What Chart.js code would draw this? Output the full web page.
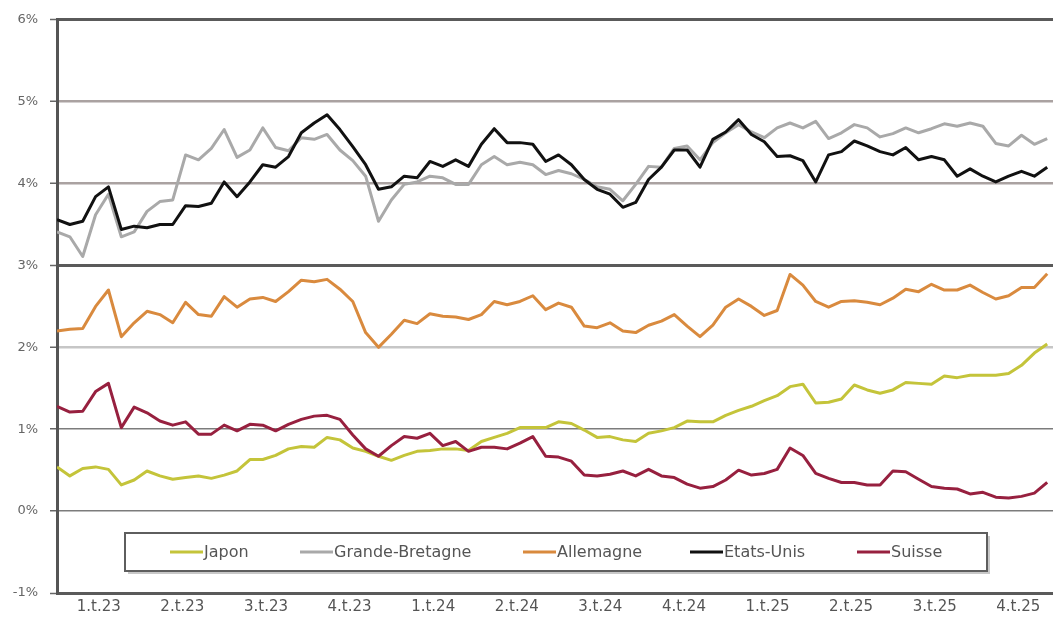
<!DOCTYPE html>
<html>
<head>
<meta charset="utf-8">
<script src="https://cdn.jsdelivr.net/npm/chart.js@4.4.1/dist/chart.umd.min.js"></script>
<style>
  html, body { margin: 0; padding: 0; background: #fff; overflow: hidden; }
  #wrap { width: 1053px; height: 621px; position: relative; }
</style>
</head>
<body>
<div id="wrap"><canvas id="c"></canvas></div>
<script>
// Quarter labels along the time axis (13 weeks per quarter)
const quarterLabels = ['1.t.23', '2.t.23', '3.t.23', '4.t.23', '1.t.24', '2.t.24',
                       '3.t.24', '4.t.24', '1.t.25', '2.t.25', '3.t.25', '4.t.25'];

// 10-year government bond yields, %, one observation every two weeks
const japon = [0.54,0.43,0.52,0.54,0.51,0.32,0.38,0.49,0.43,0.39,
  0.41,0.43,0.40,0.44,0.49,0.63,0.63,0.68,0.76,0.79,
  0.78,0.90,0.87,0.77,0.73,0.67,0.62,0.68,0.73,0.74,
  0.76,0.76,0.74,0.85,0.90,0.95,1.02,1.02,1.02,1.09,
  1.07,0.99,0.90,0.91,0.87,0.85,0.95,0.98,1.02,1.10,
  1.09,1.09,1.17,1.23,1.28,1.35,1.41,1.52,1.55,1.32,
  1.33,1.37,1.54,1.48,1.44,1.48,1.57,1.56,1.55,1.65,
  1.63,1.66,1.66,1.66,1.68,1.78,1.93,2.04];

const grandeBretagne = [3.41,3.35,3.11,3.62,3.87,3.35,3.41,3.66,3.78,3.80,
  4.35,4.29,4.43,4.66,4.32,4.41,4.68,4.44,4.40,4.56,
  4.54,4.60,4.41,4.28,4.09,3.54,3.80,3.99,4.02,4.09,
  4.07,3.99,3.99,4.23,4.33,4.23,4.26,4.23,4.11,4.16,
  4.12,4.05,3.96,3.93,3.79,3.99,4.21,4.20,4.43,4.46,
  4.29,4.50,4.62,4.72,4.63,4.56,4.68,4.74,4.68,4.76,
  4.55,4.62,4.72,4.68,4.57,4.61,4.68,4.62,4.67,4.73,
  4.70,4.74,4.70,4.49,4.46,4.59,4.48,4.55];

const allemagne = [2.20,2.22,2.23,2.50,2.70,2.13,2.30,2.44,2.40,2.30,
  2.55,2.40,2.38,2.62,2.49,2.59,2.61,2.56,2.68,2.82,
  2.80,2.83,2.71,2.56,2.18,2.00,2.16,2.33,2.29,2.41,
  2.38,2.37,2.34,2.40,2.56,2.52,2.56,2.63,2.46,2.54,
  2.49,2.26,2.24,2.30,2.20,2.18,2.27,2.32,2.40,2.26,
  2.13,2.27,2.49,2.59,2.50,2.39,2.45,2.89,2.76,2.56,
  2.49,2.56,2.57,2.55,2.52,2.60,2.71,2.68,2.77,2.70,
  2.70,2.76,2.67,2.59,2.63,2.73,2.73,2.90];

const etatsUnis = [3.56,3.50,3.54,3.84,3.96,3.44,3.48,3.46,3.50,3.50,
  3.73,3.72,3.76,4.02,3.84,4.02,4.23,4.20,4.33,4.62,
  4.74,4.84,4.66,4.45,4.23,3.93,3.96,4.09,4.07,4.27,
  4.21,4.29,4.21,4.48,4.67,4.50,4.50,4.48,4.27,4.35,
  4.23,4.05,3.93,3.87,3.71,3.77,4.05,4.20,4.41,4.41,
  4.20,4.54,4.63,4.78,4.60,4.51,4.33,4.34,4.28,4.02,
  4.35,4.39,4.52,4.46,4.39,4.35,4.44,4.29,4.33,4.29,
  4.09,4.18,4.09,4.02,4.09,4.15,4.09,4.20];

const suisse = [1.28,1.21,1.22,1.46,1.56,1.02,1.27,1.20,1.10,1.05,
  1.09,0.94,0.94,1.05,0.98,1.06,1.05,0.98,1.06,1.12,
  1.16,1.17,1.12,0.93,0.76,0.67,0.80,0.91,0.89,0.95,
  0.80,0.85,0.73,0.78,0.78,0.76,0.83,0.91,0.67,0.66,
  0.61,0.44,0.43,0.45,0.49,0.43,0.51,0.43,0.41,0.33,
  0.28,0.30,0.38,0.50,0.44,0.46,0.51,0.77,0.68,0.46,
  0.40,0.35,0.35,0.32,0.32,0.49,0.48,0.39,0.30,0.28,
  0.27,0.21,0.23,0.17,0.16,0.18,0.22,0.35];

// week number (from the start of 2023) of each observation
const weeks = japon.map((_, i) => i * 2);

const FONT = '"DejaVu Sans", "Liberation Sans", Arial, sans-serif';

const series = [
  { label: 'Japon',           values: japon,          color: '#c4c43a', order: 4 },
  { label: 'Grande-Bretagne', values: grandeBretagne, color: '#a9a9a9', order: 3 },
  { label: 'Allemagne',       values: allemagne,      color: '#d98a3e', order: 2 },
  { label: 'Etats-Unis',      values: etatsUnis,      color: '#111111', order: 0 },
  { label: 'Suisse',          values: suisse,         color: '#97203f', order: 1 }
];

// grid styling per value level
function gridColor(v) {
  if (v === 6 || v === 3 || v === -1) return '#5a5a5a';
  if (v === 5 || v === 4) return '#aaa2a1';
  if (v === 2) return '#c6c6c6';
  return '#7c7c7c';
}
function gridWidth(v) {
  if (v === 6 || v === 3 || v === -1) return 3;
  if (v === 5 || v === 4 || v === 2) return 2.5;
  return 1.5;
}

// legend framed inside the plot, below the 0% line
const insideLegend = {
  id: 'insideLegend',
  afterDraw(chart) {
    const ctx = chart.ctx;
    const bx = 125, by = 533, bw = 862, bh = 38;
    ctx.save();
    ctx.fillStyle = '#c8c8c8';
    ctx.fillRect(bx + 3, by + 3, bw, bh);
    ctx.fillStyle = '#ffffff';
    ctx.fillRect(bx, by, bw, bh);
    ctx.strokeStyle = '#5e5e5e';
    ctx.lineWidth = 2;
    ctx.strokeRect(bx, by, bw, bh);
    const starts = [170, 300, 523, 690, 857];
    const cy = by + bh / 2;
    ctx.font = '16px ' + FONT;
    ctx.textBaseline = 'middle';
    ctx.textAlign = 'left';
    chart.data.datasets.forEach((ds, i) => {
      const x = starts[i];
      ctx.strokeStyle = ds.borderColor;
      ctx.lineWidth = 3;
      ctx.beginPath();
      ctx.moveTo(x, cy);
      ctx.lineTo(x + 33, cy);
      ctx.stroke();
      ctx.fillStyle = '#555555';
      ctx.fillText(ds.label, x + 34, cy + 1);
    });
    ctx.restore();
  }
};

new Chart(document.getElementById('c'), {
  type: 'line',
  data: {
    datasets: series.map(s => ({
      label: s.label,
      data: s.values.map((v, i) => ({ x: weeks[i], y: v })),
      borderColor: s.color,
      backgroundColor: s.color,
      borderWidth: 3,
      pointRadius: 0,
      tension: 0,
      order: s.order,
      borderJoinStyle: 'round'
    }))
  },
  options: {
    responsive: true,
    maintainAspectRatio: false,
    animation: false,
    layout: { padding: { top: 18, left: 0, right: 0, bottom: 0 } },
    plugins: { legend: { display: false }, tooltip: { enabled: false } },
    scales: {
      x: {
        type: 'linear',
        min: 0,
        max: 154.9,
        grid: { display: false, drawTicks: false },
        border: { display: false },
        afterFit: s => { s.height = 28; },
        afterBuildTicks: s => {
          s.ticks = quarterLabels.map((_, k) => ({ value: 13 * k + 6.5 }));
        },
        ticks: {
          autoSkip: false,
          maxRotation: 0,
          padding: 5,
          color: '#555555',
          font: { family: FONT, size: 15 },
          callback: (v, i) => quarterLabels[i]
        }
      },
      y: {
        min: -1,
        max: 6,
        afterFit: s => { s.width = 57; },
        grid: {
          color: c => gridColor(c.tick.value),
          lineWidth: c => gridWidth(c.tick.value),
          drawTicks: true,
          tickLength: 7,
          tickColor: '#666666',
          tickWidth: 1.5
        },
        border: { display: true, color: '#555555', width: 3 },
        ticks: {
          stepSize: 1,
          padding: 12,
          color: '#666666',
          font: { family: FONT, size: 13 },
          callback: v => v + '%'
        }
      }
    }
  },
  plugins: [insideLegend]
});
</script>
</body>
</html>
